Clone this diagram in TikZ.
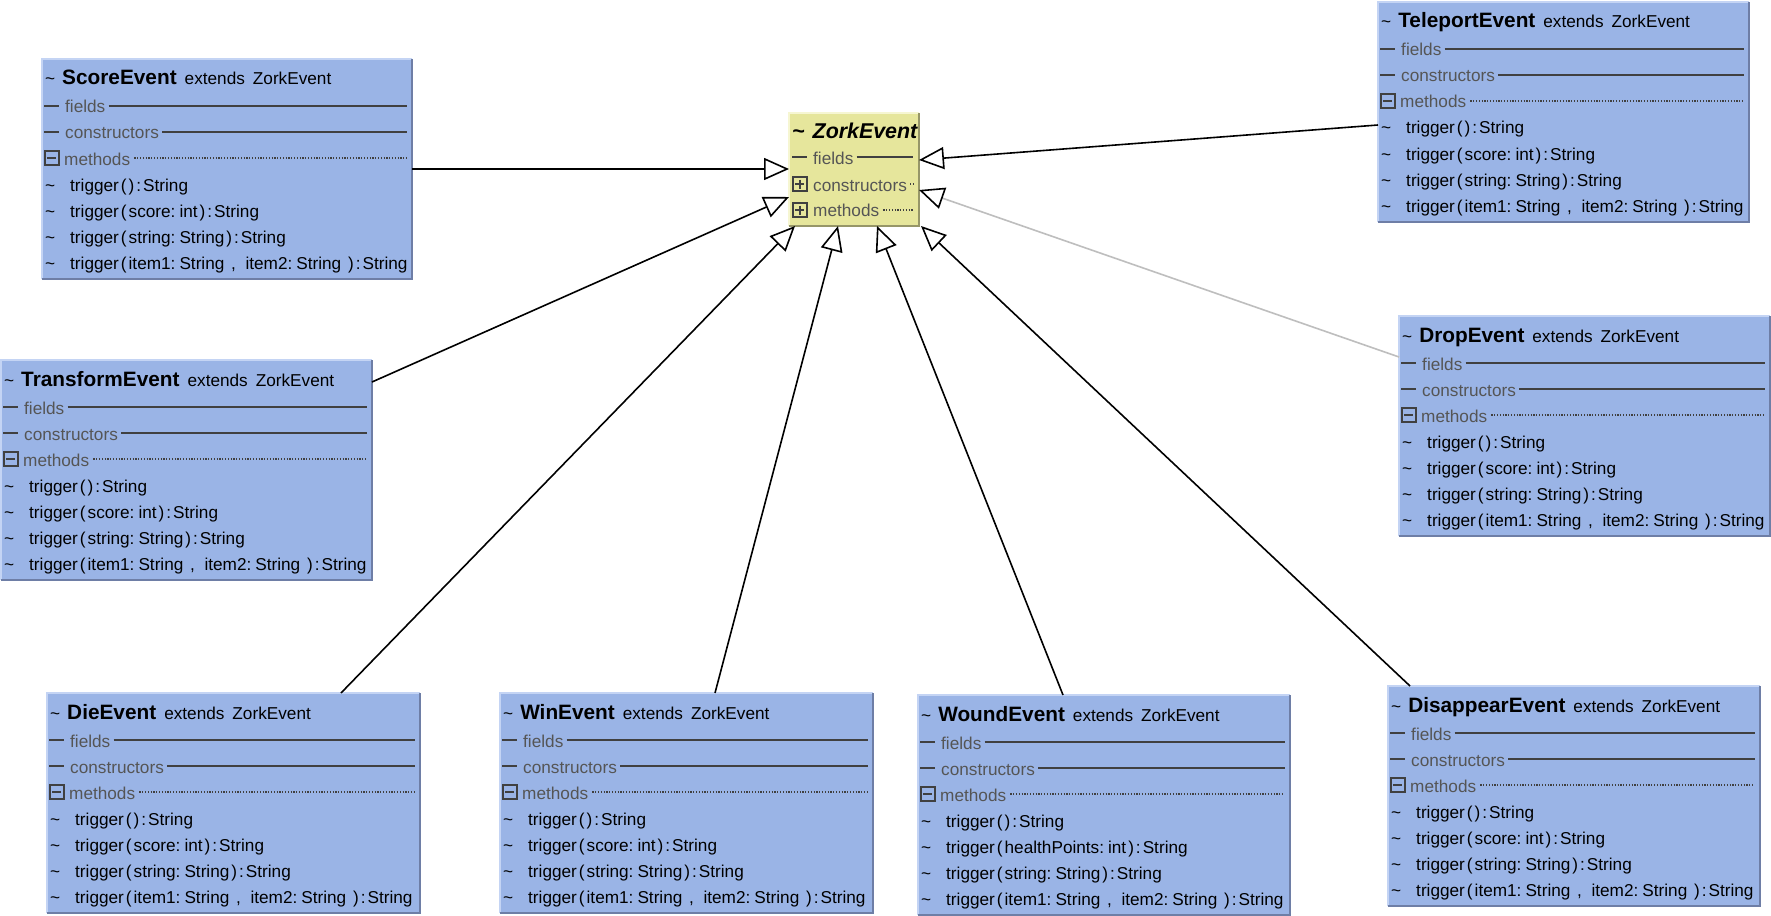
\documentclass[tikz,border=0pt]{standalone}
\usepackage{fontspec}
\setmainfont{Liberation Sans}
\usetikzlibrary{arrows.meta}

\definecolor{classblue}{RGB}{154,180,230}
\definecolor{classbluelight}{RGB}{196,212,244}
\definecolor{classbluedark}{RGB}{110,126,166}
\definecolor{abstractyellow}{RGB}{230,230,156}
\definecolor{abstractlight}{RGB}{246,246,210}
\definecolor{abstractdark}{RGB}{150,150,104}
\definecolor{sectiongrey}{RGB}{85,85,85}
\definecolor{rulegrey}{RGB}{64,64,64}
\definecolor{faintlink}{RGB}{190,190,190}

\newcommand{\regfont}{\fontsize{17.2}{20}\selectfont}
\newcommand{\namefont}{\fontsize{20.8}{24}\selectfont\bfseries}
\newcommand{\gp}{\hspace{2pt}}
\newcommand{\cg}{\hspace{4pt}}

\tikzset{
  classbody/.style={rectangle, fill=classblue, draw=none, minimum height=220pt,
    inner sep=0pt, outer sep=0pt},
  abstractbody/.style={rectangle, fill=abstractyellow, draw=none, minimum width=130pt,
    minimum height=113pt, inner sep=0pt, outer sep=0pt},
  bevel/.style={line width=2pt},
  rowtext/.style={anchor=base west, inner sep=0pt, font=\regfont, text=black},
  sectext/.style={anchor=base west, inner sep=0pt, font=\regfont, text=sectiongrey},
  secrule/.style={line width=2pt, draw=rulegrey},
  dotrule/.style={line width=1.2pt, draw=rulegrey, dash pattern=on 1.2pt off 1.6pt},
  iconrule/.style={line width=2pt, draw=rulegrey},
  inherit/.style={line width=1.6pt, draw=black,
    -{Triangle[length=25pt, width=22pt, fill=white, color=black]}},
}

% One concrete event class: id, left, top, width, class name, parameter of 2nd trigger
\newcommand{\eventclass}[6]{%
  \node[classbody, minimum width=#4pt, anchor=north west] (#1) at (#2,#3) {};
  \draw[bevel, classbluelight] (#1.south west) |- (#1.north east);
  \draw[bevel, classbluedark] (#1.north east) |- (#1.south west);
  \node[rowtext] (#1-title) at ({#2+3},{#3+26})
    {\textasciitilde\hspace{7pt}{\namefont #5}\hspace{8pt}extends\hspace{8pt}ZorkEvent};
  % compartments
  \node[sectext] (#1-f) at ({#2+23},{#3+54}) {fields};
  \node[sectext] (#1-c) at ({#2+23},{#3+80}) {constructors};
  \node[sectext] (#1-m) at ({#2+22},{#3+106}) {methods};
  \draw[secrule] ({#2+2},{#3+47}) -- ({#2+17},{#3+47});
  \draw[secrule] ({#2+2},{#3+73}) -- ({#2+17},{#3+73});
  \draw[secrule] ([xshift=3pt,yshift=7pt]#1-f.base east) -- ({#2+#4-5},{#3+47});
  \draw[secrule] ([xshift=3pt,yshift=7pt]#1-c.base east) -- ({#2+#4-5},{#3+73});
  \draw[dotrule] ([xshift=4pt,yshift=7pt]#1-m.base east) -- ({#2+#4-6},{#3+99});
  \draw[iconrule] ({#2+2.5},{#3+92}) rectangle ({#2+16.5},{#3+106});
  \draw[iconrule] ({#2+5},{#3+99}) -- ({#2+14},{#3+99});
  % operations
  \node[rowtext] (#1-v1) at ({#2+3},{#3+132}) {\textasciitilde};
  \node[rowtext] (#1-v2) at ({#2+3},{#3+158}) {\textasciitilde};
  \node[rowtext] (#1-v3) at ({#2+3},{#3+184}) {\textasciitilde};
  \node[rowtext] (#1-v4) at ({#2+3},{#3+210}) {\textasciitilde};
  \node[rowtext] (#1-o1) at ({#2+28},{#3+132}) {trigger\gp(\gp)\gp:\gp String};
  \node[rowtext] (#1-o2) at ({#2+28},{#3+158}) {trigger\gp(\gp#6:\cg int\gp)\gp:\gp String};
  \node[rowtext] (#1-o3) at ({#2+28},{#3+184}) {trigger\gp(\gp string:\cg String\gp)\gp:\gp String};
  \node[rowtext] (#1-o4) at ({#2+28},{#3+210})
    {trigger\gp(\gp item1:\cg String\gp\ ,\ \ item2:\cg String\gp\ )\gp:\gp String};
}

\begin{document}
\begin{tikzpicture}[x=1pt, y=-1pt]
  \useasboundingbox (0,0) rectangle (1771,915);
  \fill[white] (0,0) rectangle (1771,915);

  % abstract base class
  \node[abstractbody, anchor=north west] (zork) at (789,113) {};
  \draw[bevel, line width=1.6pt, abstractlight] (zork.south west) |- (zork.north east);
  \draw[bevel, line width=1.6pt, abstractdark] (zork.north east) |- (zork.south west);
  \node[rowtext, font=\fontsize{21.4}{24}\selectfont\bfseries\itshape] (zork-title) at (792,139)
    {\textasciitilde\hspace{8pt}ZorkEvent};
  \node[sectext] (zork-f) at (813,164) {fields};
  \node[sectext] (zork-c) at (813,191) {constructors};
  \node[sectext] (zork-m) at (813,216) {methods};
  \draw[secrule] (792,157) -- (807,157);
  \draw[secrule] ([xshift=3pt,yshift=7pt]zork-f.base east) -- (913,157);
  \draw[dotrule] ([xshift=3pt,yshift=7pt]zork-c.base east) -- (914,184);
  \draw[dotrule] ([xshift=4pt,yshift=6pt]zork-m.base east) -- (913,210);
  \draw[iconrule] (792.5,177) rectangle (806.5,191);
  \draw[iconrule] (795,184) -- (804,184);
  \draw[iconrule] (799.5,179.5) -- (799.5,188.5);
  \draw[iconrule] (792.5,203) rectangle (806.5,217);
  \draw[iconrule] (795,210) -- (804,210);
  \draw[iconrule] (799.5,205.5) -- (799.5,214.5);

  % concrete event classes
  \eventclass{score}{42}{59}{370}{ScoreEvent}{score}
  \eventclass{teleport}{1378}{2}{371}{TeleportEvent}{score}
  \eventclass{transform}{1}{360}{371}{TransformEvent}{score}
  \eventclass{drop}{1399}{316}{371}{DropEvent}{score}
  \eventclass{die}{47}{693}{373}{DieEvent}{score}
  \eventclass{win}{500}{693}{373}{WinEvent}{score}
  \eventclass{wound}{918}{695}{372}{WoundEvent}{healthPoints}
  \eventclass{disappear}{1388}{686}{372}{DisappearEvent}{score}

  % generalisation links
  \draw[inherit] (score.east) -- (score.east -| zork.west);
  \draw[inherit] ([yshift=-13pt]teleport.west) -- ([yshift=9.5pt]zork.east);
  \draw[inherit, draw=faintlink] ([yshift=-41pt]drop.north west) -- ([yshift=-20.5pt]zork.east);
  \draw[inherit] ([yshift=-22pt]transform.north east) -- ([yshift=-27.5pt]zork.west);
  \draw[inherit] ([xshift=294pt]die.north west) -- ([xshift=6pt]zork.south west);
  \draw[inherit] ([xshift=215pt]win.north west) -- ([xshift=49pt]zork.south west);
  \draw[inherit] ([xshift=145pt]wound.north west) -- ([xshift=88pt]zork.south west);
  \draw[inherit] ([xshift=22pt]disappear.north west) -- ([xshift=2pt]zork.south east);
\end{tikzpicture}
\end{document}
